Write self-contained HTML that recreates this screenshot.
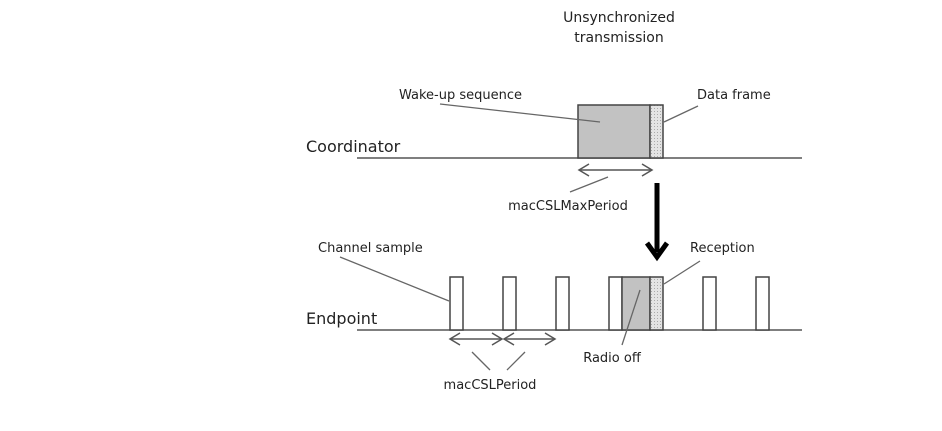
<!DOCTYPE html>
<html><head><style>
body{margin:0;background:#fff;}
svg text{font-family:"DejaVu Sans","Liberation Sans",sans-serif;fill:#222;}
</style></head><body>
<svg width="942" height="426" viewBox="0 0 942 426" xmlns="http://www.w3.org/2000/svg">
<defs>
<pattern id="dots" width="3" height="3" patternUnits="userSpaceOnUse"><rect width="3" height="3" fill="#e4e4e4"/><rect width="1" height="1" fill="#aaa"/></pattern>
</defs>
<g stroke="#555" stroke-width="1.5" fill="none">
<line x1="357" y1="158" x2="802" y2="158"/>
<line x1="357" y1="330" x2="802" y2="330"/>
</g>
<rect x="578" y="105" width="72" height="53" fill="#c2c2c2" stroke="#444" stroke-width="1.5"/>
<rect x="650" y="105" width="13" height="53" fill="url(#dots)" stroke="#444" stroke-width="1.5"/>
<g fill="#fff" stroke="#444" stroke-width="1.5">
<rect x="450" y="277" width="13" height="53"/>
<rect x="503" y="277" width="13" height="53"/>
<rect x="556" y="277" width="13" height="53"/>
<rect x="609" y="277" width="13" height="53"/>
<rect x="703" y="277" width="13" height="53"/>
<rect x="756" y="277" width="13" height="53"/>
</g>
<rect x="622" y="277" width="28" height="53" fill="#c2c2c2" stroke="#444" stroke-width="1.5"/>
<rect x="650" y="277" width="13" height="53" fill="url(#dots)" stroke="#444" stroke-width="1.5"/>
<g stroke="#555" stroke-width="1.5" fill="none">
<line x1="579" y1="170" x2="652" y2="170"/><polyline points="589,164 579,170 589,176"/><polyline points="642,164 652,170 642,176"/>
<line x1="450" y1="339" x2="502" y2="339"/><polyline points="460,333 450,339 460,345"/><polyline points="492,333 502,339 492,345"/>
<line x1="504" y1="339" x2="555" y2="339"/><polyline points="514,333 504,339 514,345"/><polyline points="545,333 555,339 545,345"/>
</g>
<g stroke="#666" stroke-width="1.3" fill="none">
<line x1="608" y1="177" x2="570" y2="192"/>
<line x1="472" y1="352" x2="490" y2="370"/>
<line x1="525" y1="352" x2="507" y2="370"/>
<line x1="640" y1="290" x2="622" y2="345"/>
<line x1="340" y1="257" x2="449" y2="301"/>
<line x1="700" y1="261" x2="664" y2="284"/>
<line x1="440" y1="104" x2="600" y2="122"/>
<line x1="698" y1="106" x2="664" y2="122"/>
</g>
<line x1="657" y1="183" x2="657" y2="252" stroke="#000" stroke-width="5"/>
<polyline points="647,243 657,257 667,243" stroke="#000" stroke-width="5" fill="none"/>
<g font-size="13">
<text x="619" y="22" text-anchor="middle" font-size="14">Unsynchronized</text>
<text x="619" y="42" text-anchor="middle" font-size="14">transmission</text>
<text x="399" y="99">Wake-up sequence</text>
<text x="697" y="99">Data frame</text>
<text x="568" y="210" text-anchor="middle">macCSLMaxPeriod</text>
<text x="318" y="252">Channel sample</text>
<text x="690" y="252">Reception</text>
<text x="612" y="362" text-anchor="middle">Radio off</text>
<text x="490" y="389" text-anchor="middle">macCSLPeriod</text>
</g>
<text x="306" y="152" font-size="16">Coordinator</text>
<text x="306" y="324" font-size="16">Endpoint</text>
</svg>
</body></html>
